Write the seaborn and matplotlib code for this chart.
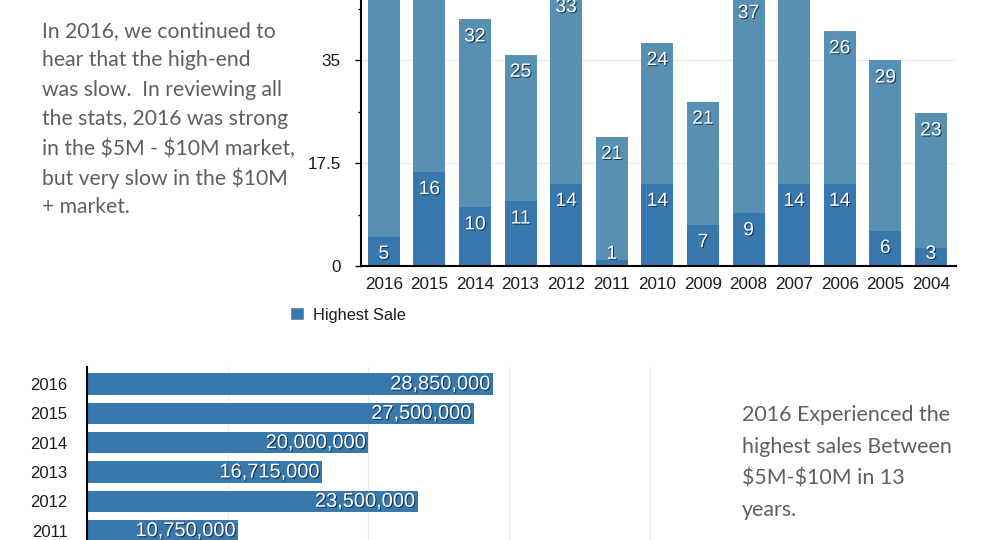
"""
Sales by year: stacked counts on top, highest sale bars below
"""

import matplotlib
matplotlib.use('Agg')  # Use non-interactive backend
import matplotlib.pyplot as plt
import matplotlib.patheffects as pe
from matplotlib.patches import Patch
from matplotlib.ticker import MultipleLocator, FixedLocator, FuncFormatter
import pandas as pd
import seaborn as sns

# Data (top of 2016, 2015 and 2007 is cropped, so estimated)
years = ['2016', '2015', '2014', '2013', '2012', '2011', '2010',
         '2009', '2008', '2007', '2006', '2005', '2004']
lower_counts = [5, 16, 10, 11, 14, 1, 14, 7, 9, 14, 14, 6, 3]
upper_counts = [48, 38, 32, 25, 33, 21, 24, 21, 37, 40, 26, 29, 23]

sale_years = ['2016', '2015', '2014', '2013', '2012', '2011']
highest_sale = [28850000, 27500000, 20000000, 16715000, 23500000, 10750000]

note_left = ['In 2016, we continued to', 'hear that the high-end',
             'was slow.  In reviewing all', 'the stats, 2016 was strong',
             r'in the \$5M - \$10M market,', r'but very slow in the \$10M',
             '+ market.']
note_right = ['2016 Experienced the', 'highest sales Between',
              r'\$5M-\$10M in 13', 'years.']

DARK = '#3878ad'
LIGHT = '#5890b3'
TEXT = '#1c1c1c'
NOTE = '#5f5f5f'
YMAX = 45.3

sns.set_style("white")
plt.rcParams['font.family'] = ['Liberation Sans', 'DejaVu Sans']

shadow = [pe.SimplePatchShadow(offset=(0.8, -0.8), shadow_rgbFace='#16324a', alpha=0.9),
          pe.Normal()]

counts = pd.DataFrame({'year': years, 'lower': lower_counts, 'upper': upper_counts})
counts['total'] = counts['lower'] + counts['upper']
sales = pd.DataFrame({'year': sale_years, 'sale': highest_sale})

fig = plt.figure(figsize=(10, 5.4), dpi=100)

# Stacked chart
ax = fig.add_axes([0.361, 274 / 540, 0.595, 266 / 540])
sns.barplot(data=counts, x='year', y='total', color=LIGHT, saturation=1, width=0.7,
            linewidth=0, ax=ax)
sns.barplot(data=counts, x='year', y='lower', color=DARK, saturation=1, width=0.7,
            linewidth=0, ax=ax)
ax.set_xlim(-0.5, 12.55)
ax.set_ylim(0, YMAX)
ax.set_xlabel('')
ax.set_ylabel('')
ax.set_axisbelow(True)
ax.yaxis.set_major_locator(MultipleLocator(17.5))
ax.yaxis.set_minor_locator(MultipleLocator(8.75))
ax.yaxis.set_major_formatter(FuncFormatter(lambda v, _: f'{v:g}'))
ax.grid(axis='y', which='major', color='#ececec', linewidth=1)
ax.tick_params(axis='y', which='major', left=True, length=4, width=1, color='black',
               labelsize=12.3, labelcolor=TEXT, pad=10.5)
ax.tick_params(axis='y', which='minor', left=True, length=2, width=1, color='black')
ax.tick_params(axis='x', bottom=False, labelsize=12.3, labelcolor=TEXT, pad=4.6)
sns.despine(ax=ax, top=True, right=True)
for side in ['left', 'bottom']:
    ax.spines[side].set_color('black')
    ax.spines[side].set_linewidth(1.5)

for i, (low, up) in enumerate(zip(lower_counts, upper_counts)):
    ax.text(i, max(low - 3.0, 2.0), str(low), ha='center', va='center', color='white',
            fontsize=13.8, path_effects=shadow)
    # tops of the tallest bars run off the picture, their labels with them
    if low + up - 3.0 < YMAX:
        ax.text(i, low + up - 3.0, str(up), ha='center', va='center', color='white',
                fontsize=13.8, path_effects=shadow)

fig.legend(handles=[Patch(facecolor=DARK, label='Highest Sale')],
           loc='center left', bbox_to_anchor=(0.275, 1 - 315 / 540), frameon=False,
           fontsize=11.8, labelcolor=TEXT, handlelength=0.85, handleheight=0.85, handletextpad=0.55)

# Highest sale chart
ax2 = fig.add_axes([0.087, 0, 0.577, 173 / 540])
sns.barplot(data=sales, y='year', x='sale', color=DARK, saturation=1, width=0.72,
            linewidth=0, ax=ax2)
ax2.set_xlim(0, 41000000)
ax2.set_ylim(5.32, -0.58)
ax2.set_xlabel('')
ax2.set_ylabel('')
ax2.set_axisbelow(True)
ax2.xaxis.set_major_locator(FixedLocator([10000000, 20000000, 30000000, 40000000]))
ax2.grid(axis='x', color='#ececec', linewidth=1)
ax2.tick_params(axis='x', bottom=False, labelbottom=False)
ax2.tick_params(axis='y', left=False, labelsize=12, labelcolor=TEXT, pad=10.5)
sns.despine(ax=ax2, top=True, right=True, bottom=True)
ax2.spines['left'].set_color('black')
ax2.spines['left'].set_linewidth(1.5)

for i, val in enumerate(highest_sale):
    ax2.annotate(f'{val:,}', xy=(val, i), xytext=(-2, 0), textcoords='offset points',
                 ha='right', va='center', color='white', fontsize=14.4,
                 path_effects=shadow)

# Side notes
for i, line in enumerate(note_left):
    fig.text(0.042, 1 - (31 + i * 29.4) / 540, line, ha='left', va='center',
             color=NOTE, fontsize=15.2, family=['Lato', 'DejaVu Sans'])
for i, line in enumerate(note_right):
    fig.text(0.742, 1 - (415 + i * 31.6) / 540, line, ha='left', va='center',
             color=NOTE, fontsize=15.4, family=['Lato', 'DejaVu Sans'])

plt.savefig('out.png', dpi=100)
plt.close()
